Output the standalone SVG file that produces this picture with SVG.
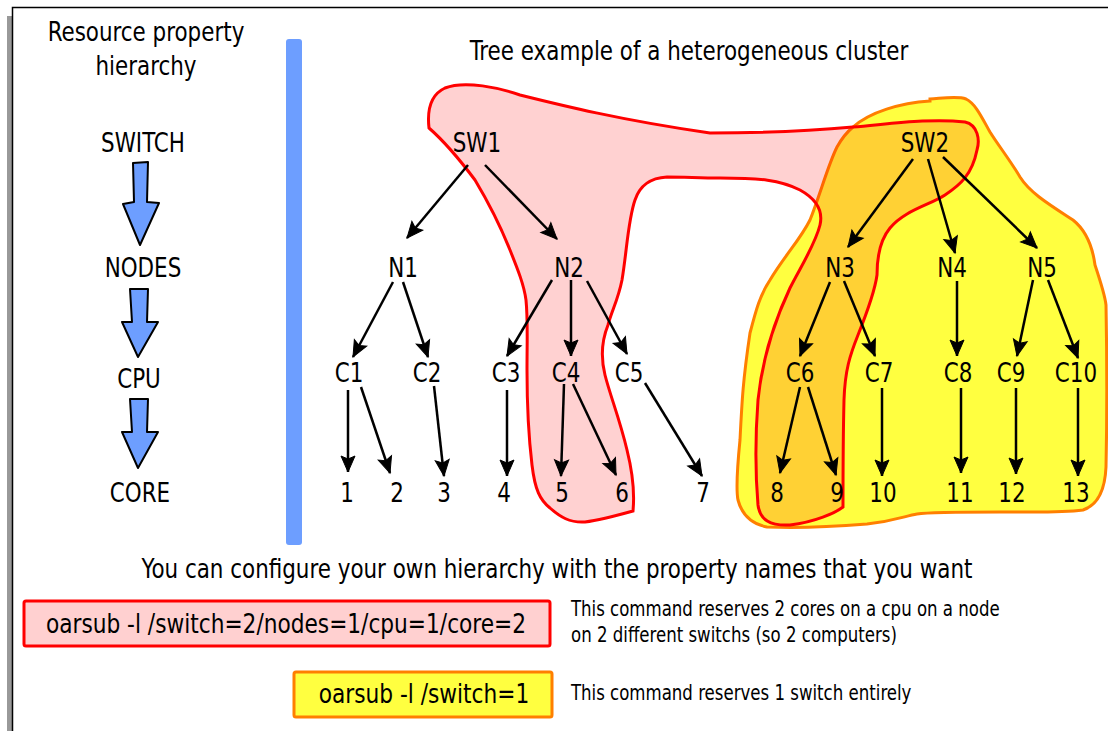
<svg xmlns="http://www.w3.org/2000/svg" width="1108" height="731" viewBox="0 0 1108 731">
<defs>
<style>
text{font-family:"DejaVu Sans Condensed","DejaVu Sans",sans-serif;fill:#000;transform-box:fill-box;transform-origin:center;transform:scaleX(0.9)}
.lbl{font-size:26.5px;text-anchor:middle}
.hdr{font-size:26.5px;text-anchor:middle}
.note{font-size:20.5px;transform-origin:left center}
.cmd{font-size:26.8px;text-anchor:middle}
.edge{stroke:#000;stroke-width:2.5;fill:none;marker-end:url(#ah)}
.big{fill:#6d9eff;stroke:#000;stroke-width:2;stroke-linejoin:round}
</style>
<marker id="ah" markerUnits="userSpaceOnUse" markerWidth="20" markerHeight="16" refX="16" refY="7" orient="auto" viewBox="0 0 20 14" overflow="visible">
<path d="M0,0 L16,7 L0,14 L3,7 Z" fill="#000" stroke="#000" stroke-width="1"/>
</marker>
</defs>
<rect width="1108" height="731" fill="#fff"/>
<g id="frame">
<rect x="7" y="16" width="5" height="715" fill="#999"/>
<path d="M12.5,731 V7.5 H1108" fill="none" stroke="#000" stroke-width="1.5"/>
</g>
<g id="legend">
<text class="hdr" x="146" y="41">Resource property</text>
<text class="hdr" x="146" y="75">hierarchy</text>
<text class="lbl" x="143" y="152">SWITCH</text>
<text class="lbl" x="143" y="277">NODES</text>
<text class="lbl" x="139" y="388">CPU</text>
<text class="lbl" x="140" y="502">CORE</text>
<path class="big" d="M133,163 L148,162 L147,202 L159,203 L140,245 L123,204 L134,202 Z"/>
<path class="big" d="M130,289 L148,289 L147,322 L158,322 L138,357 L122,322 L132,322 Z"/>
<path class="big" d="M130,399 L148,399 L147,432 L158,432 L138,468 L122,432 L132,432 Z"/>
</g>
<rect id="divider" x="286" y="39" width="16" height="506" rx="3" fill="#6d9eff"/>
<text id="title" class="hdr" x="689" y="60">Tree example of a heterogeneous cluster</text>
<g id="switch-selection">
<path d="M853,127 C870,112 900,103 930,101 L930,99 C945,98 958,96 966,99 C976,104 982,118 990,132 C998,145 1010,160 1020,177 C1030,193 1050,205 1073,220 C1088,232 1093,250 1095,265 C1100,280 1105,295 1106,305 C1107,360 1107,420 1106,467 C1105,490 1098,505 1083,510 C1060,513 1040,512 1000,512 C960,512 930,512 917,514 C905,516 895,521 867,524 C830,527 790,528 767,527 C752,524 742,515 738,500 C736,490 737,470 740,440 C742,400 743,380 750,333 C756,310 760,295 770,280 C785,255 800,240 810,220 C820,195 828,165 837,147 C842,138 847,132 853,127 Z" fill="#ffff40" stroke="#ff7f00" stroke-width="3"/>
</g>
<g id="nodes-selection">
<path d="M429,128 C427,110 430,95 445,88 C465,80 500,88 520,95 C560,105 620,120 710,133 C760,133 820,130 853,127 C890,124 930,118 965,122 C978,125 980,140 977,150 C972,175 960,185 945,195 C930,205 905,210 890,228 C880,240 877,255 877,275 C875,290 868,310 858,335 C850,355 845,370 844,400 C843,440 843,480 843,507 C835,513 815,522 790,525 C770,526 760,520 758,505 C755,470 755,440 758,400 C762,360 775,320 790,288 C800,268 815,245 820,225 C823,212 818,200 800,190 C780,180 760,178 720,178 C700,178 685,177 667,177 C650,178 640,185 635,200 C628,220 627,250 622,280 C618,300 612,310 608,325 C602,340 600,355 605,375 C610,395 620,420 627,450 C632,470 635,490 633,511 C615,516 600,520 585,522 C570,523 560,517 550,508 C540,500 535,490 532,465 C529,440 527,400 527,370 C527,340 528,320 526,300 C524,285 518,270 510,250 C500,225 490,205 475,180 C460,160 445,142 429,128 Z" fill="#ff0000" fill-opacity="0.18" stroke="#ff0000" stroke-width="3"/>
</g>
<g id="connectors">
<path class="edge" d="M468,165 L407,238"/>
<path class="edge" d="M485,165 L557,239"/>
<path class="edge" d="M913,159 L848,247"/>
<path class="edge" d="M928,159 L955,253"/>
<path class="edge" d="M943,157 L1037,248"/>
<path class="edge" d="M393,282 L353,357"/>
<path class="edge" d="M403,282 L428,357"/>
<path class="edge" d="M552,280 L507,356"/>
<path class="edge" d="M571,280 L571,356"/>
<path class="edge" d="M587,281 L627,354"/>
<path class="edge" d="M830,282 L800,356"/>
<path class="edge" d="M844,281 L875,356"/>
<path class="edge" d="M957,281 L957,356"/>
<path class="edge" d="M1033,280 L1017,356"/>
<path class="edge" d="M1048,280 L1078,358"/>
<path class="edge" d="M348,390 L348,472"/>
<path class="edge" d="M361,387 L390,473"/>
<path class="edge" d="M434,386 L444,476"/>
<path class="edge" d="M507,390 L507,476"/>
<path class="edge" d="M564,384 L561,476"/>
<path class="edge" d="M573,384 L616,475"/>
<path class="edge" d="M645,383 L702,476"/>
<path class="edge" d="M800,387 L780,473"/>
<path class="edge" d="M808,387 L836,475"/>
<path class="edge" d="M882,388 L882,476"/>
<path class="edge" d="M961,388 L961,473"/>
<path class="edge" d="M1016,388 L1016,474"/>
<path class="edge" d="M1078,388 L1078,476"/>
</g>
<g id="SW1"><text class="lbl" x="477" y="152">SW1</text></g>
<g id="SW2"><text class="lbl" x="925" y="152">SW2</text></g>
<g id="N1"><text class="lbl" x="403" y="277">N1</text></g>
<g id="N2"><text class="lbl" x="569" y="277">N2</text></g>
<g id="N3"><text class="lbl" x="840" y="277">N3</text></g>
<g id="N4"><text class="lbl" x="952" y="277">N4</text></g>
<g id="N5"><text class="lbl" x="1042" y="277">N5</text></g>
<g id="C1"><text class="lbl" x="349" y="382">C1</text></g>
<g id="C2"><text class="lbl" x="427" y="382">C2</text></g>
<g id="C3"><text class="lbl" x="506" y="382">C3</text></g>
<g id="C4"><text class="lbl" x="566" y="382">C4</text></g>
<g id="C5"><text class="lbl" x="629" y="382">C5</text></g>
<g id="C6"><text class="lbl" x="800" y="382">C6</text></g>
<g id="C7"><text class="lbl" x="879" y="382">C7</text></g>
<g id="C8"><text class="lbl" x="958" y="382">C8</text></g>
<g id="C9"><text class="lbl" x="1011" y="382">C9</text></g>
<g id="C10"><text class="lbl" x="1076" y="382">C10</text></g>
<g id="core1"><text class="lbl" x="347" y="502">1</text></g>
<g id="core2"><text class="lbl" x="397" y="502">2</text></g>
<g id="core3"><text class="lbl" x="444" y="502">3</text></g>
<g id="core4"><text class="lbl" x="504" y="502">4</text></g>
<g id="core5"><text class="lbl" x="562" y="502">5</text></g>
<g id="core6"><text class="lbl" x="622" y="502">6</text></g>
<g id="core7"><text class="lbl" x="703" y="502">7</text></g>
<g id="core8"><text class="lbl" x="777" y="502">8</text></g>
<g id="core9"><text class="lbl" x="837" y="502">9</text></g>
<g id="core10"><text class="lbl" x="883" y="502">10</text></g>
<g id="core11"><text class="lbl" x="960" y="502">11</text></g>
<g id="core12"><text class="lbl" x="1012" y="502">12</text></g>
<g id="core13"><text class="lbl" x="1076" y="502">13</text></g>
<text id="caption" class="hdr" x="557" y="578">You can configure your own hierarchy with the property names that you want</text>
<g id="cmd1">
<rect x="24" y="601" width="526" height="45" rx="2" fill="#ffd0d0" stroke="#ff0000" stroke-width="3"/>
<text class="cmd" x="286" y="633">oarsub -l /switch=2/nodes=1/cpu=1/core=2</text>
<text class="note" x="571" y="616">This command reserves 2 cores on a cpu on a node</text>
<text class="note" x="571" y="642">on 2 different switchs (so 2 computers)</text>
</g>
<g id="cmd2">
<rect x="294" y="672" width="258" height="45" rx="2" fill="#ffff40" stroke="#ff7f00" stroke-width="3"/>
<text class="cmd" x="424" y="703">oarsub -l /switch=1</text>
<text class="note" x="571" y="700">This command reserves 1 switch entirely</text>
</g>
</svg>
